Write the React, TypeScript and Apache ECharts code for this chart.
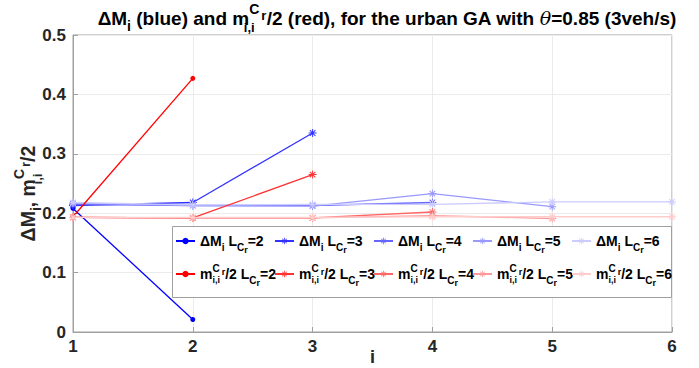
import React, { useEffect, useRef } from "react";
import * as echarts from "echarts";

const xTicks = [1, 2, 3, 4, 5, 6];
const yTicks = [0, 0.1, 0.2, 0.3, 0.4, 0.5];
const lengths = [2, 3, 4, 5, 6];

// ΔM_i (blue) for L_Cr = 2..6
const blueL2 = [0.208, 0.021];
const blueL3 = [0.213, 0.218, 0.335];
const blueL4 = [0.215, 0.213, 0.213, 0.218];
const blueL5 = [0.217, 0.213, 0.212, 0.233, 0.211];
const blueL6 = [0.218, 0.214, 0.215, 0.215, 0.219, 0.219];
// m^C_{i,i}/2 (red) for L_Cr = 2..6
const redL2 = [0.194, 0.427];
const redL3 = [0.193, 0.192, 0.265];
const redL4 = [0.193, 0.192, 0.192, 0.202];
const redL5 = [0.193, 0.192, 0.192, 0.196, 0.191];
const redL6 = [0.193, 0.193, 0.193, 0.194, 0.194, 0.194];

const blueSets = [blueL2, blueL3, blueL4, blueL5, blueL6];
const redSets = [redL2, redL3, redL4, redL5, redL6];
const blueColors = ["#0000ff", "#3333ff", "#6666ff", "#9999ff", "#ccccff"];
const redColors = ["#ff0000", "#ff3333", "#ff6666", "#ff9999", "#ffcccc"];

const FONT = "'Liberation Sans', Arial, Helvetica, sans-serif";
const ASTERISK =
  "path://M-0.6,-5L0.6,-5L0.6,5L-0.6,5Z M-5,-0.6L5,-0.6L5,0.6L-5,0.6Z M-3.08,-3.92L3.92,3.08L3.08,3.92L-3.92,-3.08Z M-3.92,3.08L3.08,-3.92L3.92,-3.08L-3.08,3.92Z";

// m^{C_r}_{i,i} with "i,i" stacked under "C" (zero-width subscript box)
const M_CII = "m{sz|i,i}{u|C}{us|r}";

function richSet(base: number, color: string, k = 0.8) {
  const sub = Math.round(base * 0.72);
  const sp = Math.ceil(base * k);
  const b = { fontWeight: "bold", fontFamily: FONT, color };
  return {
    s: { ...b, fontSize: sub, padding: [Math.ceil(base * 0.8), 0, 0, 0] },
    sz: { ...b, fontSize: sub - 1, padding: [sp, 0, 0, 0], width: 0.01 },
    ss: { ...b, fontSize: sub - 1, padding: [Math.round(base * 1.3), 0, 0, 0] },
    u: { ...b, fontSize: sub, padding: [0, 0, sp, 0] },
    us: { ...b, fontSize: sub - 1, padding: [0, 0, Math.round(base * 0.3), 2] },
    it: { fontSize: base, fontStyle: "italic", fontWeight: "normal", fontFamily: "'DejaVu Serif', serif", color },
  };
}

export default function App() {
  const ref = useRef<HTMLDivElement>(null);
  useEffect(() => {
    if (!ref.current) return;
    const chart = echarts.init(ref.current, undefined, { renderer: "svg" });

    const series: any[] = [];
    const legends: any[] = [];
    const itemLefts = [175, 274, 373, 472, 571];
    const legendText = { fontSize: 14, fontWeight: "bold", fontFamily: FONT, color: "#000", rich: richSet(14, "#000") };
    lengths.forEach((L, k) => {
      const name = "dM L" + L;
      series.push({
        name,
        type: "line",
        data: blueSets[k].map((v, j) => [xTicks[j], v]),
        symbol: L === 2 ? "circle" : ASTERISK,
        symbolSize: L === 2 ? 5 : 8,
        lineStyle: { color: blueColors[k], width: 1.3 },
        itemStyle: { color: blueColors[k] },
        z: 2 + k,
      });
      legends.push({
        data: [name],
        left: itemLefts[k],
        top: 234,
        itemWidth: 19,
        itemHeight: 8,
        itemGap: 0,
        padding: 0,
        z: 20,
        formatter: () => "ΔM{s|i} L{s|C}{ss|r}=" + L,
        textStyle: legendText,
      });
    });
    lengths.forEach((L, k) => {
      const name = "m L" + L;
      series.push({
        name,
        type: "line",
        data: redSets[k].map((v, j) => [xTicks[j], v]),
        symbol: L === 2 ? "circle" : ASTERISK,
        symbolSize: L === 2 ? 5 : 8,
        lineStyle: { color: redColors[k], width: 1.3 },
        itemStyle: { color: redColors[k] },
        z: 8 + k,
      });
      legends.push({
        data: [name],
        left: itemLefts[k],
        top: 263,
        itemWidth: 19,
        itemHeight: 8,
        itemGap: 0,
        padding: 0,
        z: 20,
        formatter: () => M_CII + "/2 L{s|C}{ss|r}=" + L,
        textStyle: legendText,
      });
    });

    const axisColor = "#a0a0a0";
    chart.setOption({
      animation: false,
      backgroundColor: "#fff",
      title: {
        text: "ΔM{s|i} (blue) and " + M_CII + "/2 (red), for the urban GA with {it|θ}=0.85 (3veh/s)",
        left: 382,
        top: -3,
        textAlign: "center",
        textStyle: { fontSize: 19, fontWeight: "bold", fontFamily: FONT, color: "#000", rich: richSet(19, "#000", 0.92) },
      },
      grid: {
        left: 73,
        right: 27,
        top: 35,
        bottom: 36,
        show: true,
        borderColor: axisColor,
        borderWidth: 1,
        backgroundColor: "#fff",
        containLabel: false,
        outerBoundsMode: "none",
      },
      xAxis: {
        type: "value",
        min: xTicks[0],
        max: xTicks[xTicks.length - 1],
        interval: 1,
        name: "i",
        nameLocation: "middle",
        nameGap: 16,
        nameMoveOverlap: false,
        nameTextStyle: { fontSize: 18, lineHeight: 18, fontWeight: "bold", fontFamily: FONT, color: "#262626" },
        axisLine: { lineStyle: { color: axisColor } },
        axisTick: { inside: true, length: 5, lineStyle: { color: axisColor } },
        axisLabel: { fontSize: 17, fontWeight: "bold", fontFamily: FONT, color: "#262626", margin: 6 },
        splitLine: { show: true, lineStyle: { color: "#ebebeb" } },
      },
      yAxis: {
        type: "value",
        min: yTicks[0],
        max: yTicks[yTicks.length - 1],
        interval: 0.1,
        name: "ΔM{s|i}, " + M_CII + "/2",
        nameLocation: "middle",
        nameRotate: 90,
        nameGap: 29,
        nameMoveOverlap: false,
        nameTextStyle: {
          fontSize: 19.5,
          fontWeight: "bold",
          fontFamily: FONT,
          color: "#262626",
          padding: [0, 20, 0, 0],
          rich: richSet(19.5, "#262626", 0.92),
        },
        axisLine: { show: true, lineStyle: { color: axisColor } },
        axisTick: { show: true, inside: true, length: 5, lineStyle: { color: axisColor } },
        axisLabel: { fontSize: 17, fontWeight: "bold", fontFamily: FONT, color: "#262626", margin: 7 },
        splitLine: { show: true, lineStyle: { color: "#ebebeb" } },
      },
      legend: legends,
      graphic: [
        {
          type: "rect",
          shape: { x: 172.5, y: 226.5, width: 499, height: 71 },
          style: { fill: "#fff", stroke: "#a0a0a0", lineWidth: 1 },
          z: 15,
        },
      ],
      series,
    });
    return () => chart.dispose();
  }, []);
  return <div ref={ref} style={{ position: "fixed", left: 0, top: 0, width: 699, height: 368 }} />;
}
